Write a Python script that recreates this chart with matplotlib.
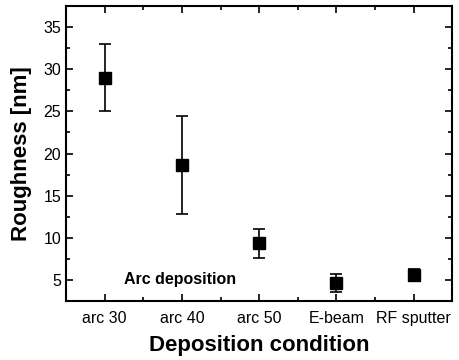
import matplotlib
matplotlib.use("Agg")
import matplotlib.pyplot as plt
from matplotlib.ticker import MultipleLocator

plt.rcParams['font.family'] = ['Liberation Sans', 'DejaVu Sans']

# Dati
condizioni = ["arc 30", "arc 40", "arc 50", "E-beam", "RF sputter"]
rugosita = [29.0, 18.6, 9.4, 4.6, 5.6]
err_alto = [33.0, 24.5, 11.1, 5.7, 6.3]
err_basso = [25.0, 12.8, 7.6, 3.6, 5.0]

x = list(range(1, len(condizioni) + 1))
yerr = [[r - b for r, b in zip(rugosita, err_basso)],
        [a - r for r, a in zip(rugosita, err_alto)]]

fig = plt.figure(figsize=(4.59, 3.6), dpi=100)
ax = fig.add_axes([0.144, 0.164, 0.841, 0.819])

ax.errorbar(x, rugosita, yerr=yerr, fmt="s", color="black", markersize=8,
            capsize=4, elinewidth=1.2, capthick=1.2)

ax.set_xlim(0.5, 5.5)
ax.set_ylim(2.5, 37.5)
ax.set_xticks(x)
ax.set_xticklabels(condizioni, fontsize=11.5)
ax.xaxis.set_minor_locator(MultipleLocator(0.5))
ax.yaxis.set_major_locator(MultipleLocator(5))
ax.yaxis.set_minor_locator(MultipleLocator(2.5))
ax.tick_params(axis="both", which="both", direction="in", top=True, right=True,
               labelsize=11.5, width=1.2)
ax.tick_params(which="major", length=5)
ax.tick_params(which="minor", length=3)
ax.tick_params(axis="x", pad=7)
for s in ax.spines.values():
    s.set_linewidth(1.5)

ax.set_xlabel("Deposition condition", fontsize=16, fontweight="bold", labelpad=7)
ax.set_ylabel("Roughness [nm]", fontsize=16, fontweight="bold", labelpad=8)

ax.text(1.97, 5.0, "Arc deposition", fontsize=11.5, fontweight="bold",
        ha="center", va="center")

fig.savefig("out.png", dpi=100)
plt.close(fig)
